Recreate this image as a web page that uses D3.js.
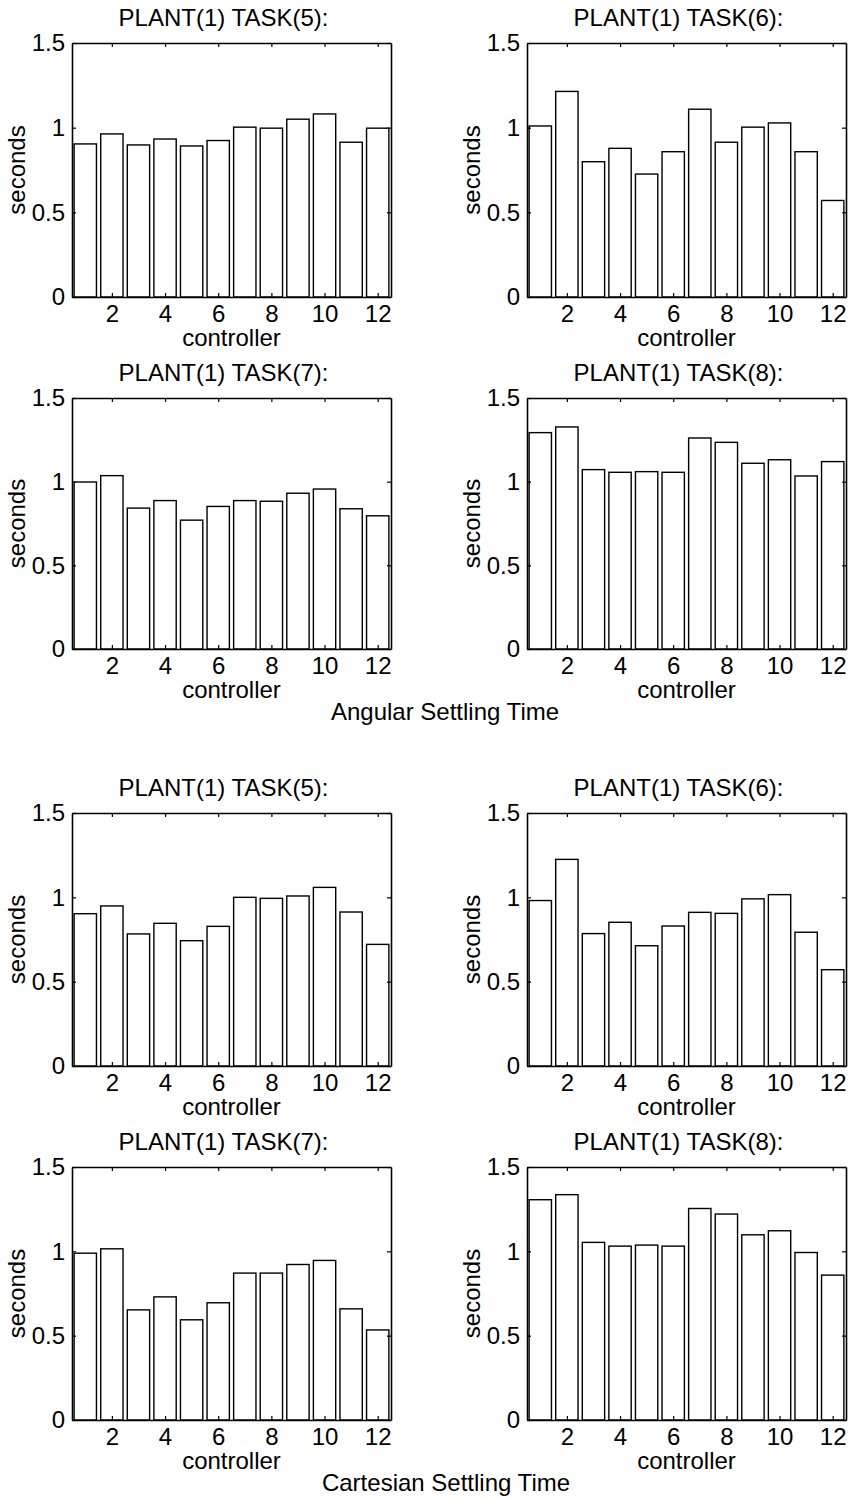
<!DOCTYPE html>
<html>
<head>
<meta charset="utf-8">
<script src="https://cdn.jsdelivr.net/npm/d3@7"></script>
<style>
  html, body { margin: 0; padding: 0; background: #fff; }
  svg { display: block; }
  text { font-family: "Liberation Sans", Arial, Helvetica, sans-serif; fill: #000; }
</style>
</head>
<body>
<svg id="chart" width="857" height="1500"></svg>
<script>
// ---------- data ----------
const controllers = [1, 2, 3, 4, 5, 6, 7, 8, 9, 10, 11, 12];
const xTickValues = [2, 4, 6, 8, 10, 12];
const yTickValues = [0, 0.5, 1, 1.5];
const yTickLabels = ["0", "0.5", "1", "1.5"];
const panelTitles = ["PLANT(1) TASK(5):", "PLANT(1) TASK(6):", "PLANT(1) TASK(7):", "PLANT(1) TASK(8):"];
const groupTitles = ["Angular Settling Time", "Cartesian Settling Time"];
const xLabel = "controller";
const yLabel = "seconds";

const angularTask5 = [0.904, 0.963, 0.898, 0.933, 0.892, 0.924, 1.003, 0.997, 1.050, 1.081, 0.914, 0.997];
const angularTask6 = [1.010, 1.214, 0.799, 0.878, 0.726, 0.858, 1.109, 0.914, 1.003, 1.028, 0.858, 0.570];
const angularTask7 = [0.998, 1.036, 0.842, 0.887, 0.770, 0.852, 0.887, 0.883, 0.931, 0.956, 0.838, 0.796];
const angularTask8 = [1.293, 1.327, 1.072, 1.056, 1.060, 1.056, 1.261, 1.235, 1.110, 1.131, 1.034, 1.120];

const cartesianTask5 = [0.903, 0.949, 0.783, 0.846, 0.743, 0.828, 1.000, 0.994, 1.008, 1.059, 0.913, 0.721];
const cartesianTask6 = [0.981, 1.225, 0.785, 0.852, 0.713, 0.830, 0.911, 0.905, 0.991, 1.016, 0.793, 0.571];
const cartesianTask7 = [0.989, 1.015, 0.653, 0.730, 0.594, 0.695, 0.871, 0.871, 0.922, 0.946, 0.659, 0.534];
const cartesianTask8 = [1.306, 1.336, 1.053, 1.031, 1.037, 1.031, 1.254, 1.221, 1.098, 1.122, 0.993, 0.859];

// ---------- layout ----------
const svg = d3.select("#chart");
const colLefts = [72, 527];
const plotW = 319;
const rowTops = [43, 398, 813, 1167];
const plotHs = [254, 251, 253, 253];
const barWidthUnits = 0.84;
const fontSize = 24;

const panels = [
  { values: angularTask5, title: panelTitles[0], col: 0, row: 0 },
  { values: angularTask6, title: panelTitles[1], col: 1, row: 0 },
  { values: angularTask7, title: panelTitles[2], col: 0, row: 1 },
  { values: angularTask8, title: panelTitles[3], col: 1, row: 1 },
  { values: cartesianTask5, title: panelTitles[0], col: 0, row: 2 },
  { values: cartesianTask6, title: panelTitles[1], col: 1, row: 2 },
  { values: cartesianTask7, title: panelTitles[2], col: 0, row: 3 },
  { values: cartesianTask8, title: panelTitles[3], col: 1, row: 3 }
];

panels.forEach(p => {
  const left = colLefts[p.col];
  const top = rowTops[p.row];
  const h = plotHs[p.row];
  const g = svg.append("g").attr("transform", `translate(${left},${top})`);

  const x = d3.scaleLinear().domain([0.5, 12.5]).range([0, plotW]);
  const y = d3.scaleLinear().domain([0, 1.5]).range([h, 0]);
  const bw = x(barWidthUnits) - x(0);

  // bars
  g.selectAll("rect.bar")
    .data(controllers)
    .join("rect")
    .attr("class", "bar")
    .attr("x", (c) => x(c) - bw / 2)
    .attr("width", bw)
    .attr("y", (c, i) => y(p.values[i]))
    .attr("height", (c, i) => y(0) - y(p.values[i]))
    .attr("fill", "#fff")
    .attr("stroke", "#000")
    .attr("stroke-width", 1.4);

  // axes (ticks pointing inward, box on)
  const styleAxis = sel => {
    sel.select(".domain").attr("stroke", "#000").attr("stroke-width", 1.6);
    sel.selectAll(".tick line").attr("stroke", "#000").attr("stroke-width", 1.2);
    sel.selectAll(".tick text").attr("font-size", fontSize).attr("font-family", null);
  };

  g.append("g")
    .attr("transform", `translate(0,${h})`)
    .call(d3.axisBottom(x).tickValues(xTickValues).tickSize(-4).tickSizeOuter(0).tickPadding(8))
    .call(styleAxis);

  g.append("g")
    .call(d3.axisTop(x).tickValues(xTickValues).tickSize(-4).tickSizeOuter(0).tickFormat(""))
    .call(styleAxis);

  g.append("g")
    .call(d3.axisLeft(y).tickValues(yTickValues).tickSize(-4).tickSizeOuter(0).tickPadding(7)
      .tickFormat((d, i) => yTickLabels[i]))
    .call(styleAxis);

  g.append("g")
    .attr("transform", `translate(${plotW},0)`)
    .call(d3.axisRight(y).tickValues(yTickValues).tickSize(-4).tickSizeOuter(0).tickFormat(""))
    .call(styleAxis);

  // title
  g.append("text")
    .attr("x", plotW / 2 - 8)
    .attr("y", -17)
    .attr("text-anchor", "middle")
    .attr("font-size", fontSize)
    .text(p.title);

  // x label
  g.append("text")
    .attr("x", plotW / 2)
    .attr("y", h + 49)
    .attr("text-anchor", "middle")
    .attr("font-size", fontSize)
    .text(xLabel);

  // y label
  g.append("text")
    .attr("transform", `translate(-47,${h / 2}) rotate(-90)`)
    .attr("text-anchor", "middle")
    .attr("font-size", fontSize)
    .text(yLabel);
});

// group titles
svg.append("text")
  .attr("x", 445).attr("y", 720)
  .attr("text-anchor", "middle")
  .attr("font-size", fontSize)
  .text(groupTitles[0]);

svg.append("text")
  .attr("x", 446).attr("y", 1491)
  .attr("text-anchor", "middle")
  .attr("font-size", fontSize)
  .text(groupTitles[1]);
</script>
</body>
</html>
